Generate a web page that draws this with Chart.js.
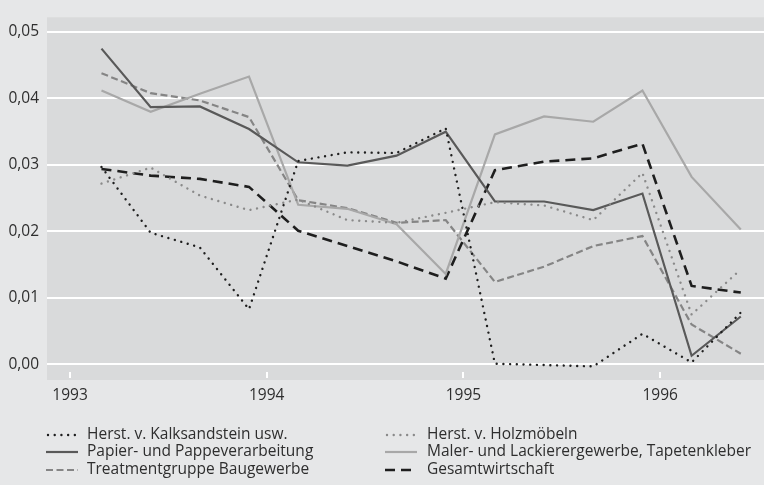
<!DOCTYPE html>
<html>
<head>
<meta charset="utf-8">
<script src="https://cdn.jsdelivr.net/npm/chart.js@4"></script>
<style>
html,body{margin:0;padding:0;background:#e6e7e8;}
#wrap{width:764px;height:485px;position:relative;}
</style>
</head>
<body>
<div id="wrap"><canvas id="c" width="764" height="485"></canvas></div>
<script>
// Quarter positions (decimal years)
const quarters = [1993.16,1993.41,1993.66,1993.91,1994.16,1994.41,1994.66,1994.91,1995.16,1995.41,1995.66,1995.91,1996.16,1996.41];
const yearTicks = [1993,1994,1995,1996];
const yTicks = [0,0.01,0.02,0.03,0.04,0.05];

const kalksandstein = [0.0297,0.0198,0.0176,0.0083,0.0306,0.0319,0.0318,0.0355,0.0001,-0.0001,-0.0003,0.0046,0.0003,0.0078];
const holzmoebel   = [0.0272,0.0296,0.0254,0.0232,0.0248,0.0217,0.0213,0.0228,0.0244,0.0239,0.0217,0.0288,0.0075,0.0143];
const papier       = [0.0475,0.0387,0.0388,0.0354,0.0304,0.0299,0.0314,0.0350,0.0245,0.0245,0.0232,0.0257,0.0013,0.0072];
const maler        = [0.0412,0.0380,0.0407,0.0433,0.0240,0.0234,0.0211,0.0136,0.0346,0.0373,0.0365,0.0412,0.0282,0.0203];
const treatment    = [0.0438,0.0408,0.0397,0.0372,0.0247,0.0235,0.0213,0.0217,0.0124,0.0147,0.0178,0.0193,0.0060,0.0016];
const gesamt       = [0.0294,0.0284,0.0279,0.0267,0.0201,0.0178,0.0155,0.0129,0.0292,0.0305,0.0310,0.0332,0.0118,0.0108];

const names = ["Herst. v. Kalksandstein usw.","Herst. v. Holzmöbeln","Papier- und Pappeverarbeitung","Maler- und Lackierergewerbe, Tapetenkleber","Treatmentgruppe Baugewerbe","Gesamtwirtschaft"];

function pts(arr){ return arr.map((v,i)=>({x:quarters[i],y:v})); }

const styles = [
  {color:'#1e1e1e', width:2.4, dash:[0.01,6.7], cap:'round'},
  {color:'#8a8a8a', width:2.4, dash:[0.01,6.7], cap:'round'},
  {color:'#595959', width:2.2, dash:[], cap:'butt'},
  {color:'#a8a8a8', width:2.2, dash:[], cap:'butt'},
  {color:'#858585', width:2.2, dash:[7,3.5], cap:'butt'},
  {color:'#1e1e1e', width:2.6, dash:[10,6], cap:'butt'}
];
const series = [kalksandstein, holzmoebel, papier, maler, treatment, gesamt];

const datasets = series.map((s,i)=>({
  label: names[i],
  data: pts(s),
  borderColor: styles[i].color,
  borderWidth: styles[i].width,
  borderDash: styles[i].dash,
  borderCapStyle: styles[i].cap,
  borderJoinStyle: 'miter',
  pointRadius: 0,
  tension: 0,
  fill: false
}));

const FONT = "'Open Sans'";
const FSIZE = 15.5;
const bgPlugin = {
  id:'bg',
  beforeDraw(chart){
    const {ctx, chartArea:a} = chart;
    ctx.save();
    ctx.fillStyle='#e6e7e8';
    ctx.fillRect(0,0,chart.width,chart.height);
    ctx.fillStyle='#d9dadb';
    ctx.fillRect(a.left,a.top,a.right-a.left,a.bottom-a.top);
    const xs = chart.scales.x;
    ctx.strokeStyle='#ffffff';
    ctx.lineWidth=2;
    yearTicks.forEach(v=>{
      const px = Math.round(xs.getPixelForValue(v));
      ctx.beginPath();
      ctx.moveTo(px, a.bottom-8);
      ctx.lineTo(px, a.bottom-2);
      ctx.stroke();
    });
    ctx.restore();
  }
};

const legendPlugin = {
  id:'customLegend',
  afterDraw(chart){
    const ctx = chart.ctx;
    const order = [[0,2,4],[1,3,5]];
    const cols = [{x0:46,x1:78,tx:87},{x0:385,x1:417,tx:427}];
    const rows = [435,452,470];
    ctx.save();
    ctx.font = FSIZE + "px " + FONT;
    ctx.textBaseline='middle';
    ctx.fillStyle='#2e2e2e';
    order.forEach((col,ci)=>{
      col.forEach((di,ri)=>{
        const st = styles[di];
        const y = rows[ri];
        ctx.save();
        ctx.strokeStyle=st.color;
        ctx.lineWidth=st.width;
        ctx.setLineDash(st.dash);
        ctx.lineCap=st.cap;
        ctx.beginPath();
        ctx.moveTo(cols[ci].x0+(st.cap==='round'?2:0), y);
        ctx.lineTo(cols[ci].x1, y);
        ctx.stroke();
        ctx.restore();
        ctx.fillText(names[di], cols[ci].tx, y);
      });
    });
    ctx.restore();
  }
};

new Chart(document.getElementById('c'), {
  type:'line',
  data:{datasets},
  plugins:[bgPlugin, legendPlugin],
  options:{
    responsive:false,
    animation:false,
    devicePixelRatio:1,
    layout:{padding:{top:9,right:0,left:0,bottom:0}},
    plugins:{legend:{display:false}, tooltip:{enabled:false}},
    scales:{
      x:{
        type:'linear',
        min:1992.883, max:1996.528,
        afterBuildTicks(s){ s.ticks = yearTicks.map(v=>({value:v})); },
        afterFit(s){ s.height = 105; },
        grid:{display:false, drawTicks:false},
        border:{display:false},
        ticks:{font:{family:FONT,size:FSIZE}, color:'#2e2e2e', padding:6, maxRotation:0,
          callback:(v)=>String(v)}
      },
      y:{
        min:-0.00235, max:0.05221,
        afterBuildTicks(s){ s.ticks = yTicks.map(v=>({value:v})); },
        afterFit(s){ s.width = 47; },
        grid:{color:'#ffffff', lineWidth:2, drawTicks:false},
        border:{display:false},
        ticks:{font:{family:FONT,size:FSIZE}, color:'#2e2e2e', padding:8,
          callback:(v)=>v.toFixed(2).replace('.',',')}
      }
    }
  }
});
</script>
</body>
</html>
